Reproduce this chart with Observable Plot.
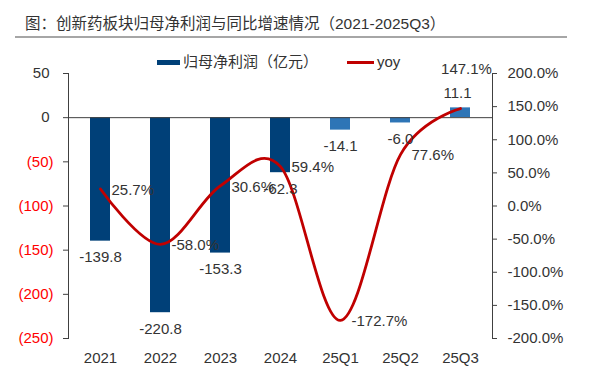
<!DOCTYPE html>
<html>
<head>
<meta charset="utf-8">
<script src="https://cdn.jsdelivr.net/npm/d3@7"></script>
<script src="https://cdn.jsdelivr.net/npm/@observablehq/plot@0.6"></script>
<style>
  html, body { margin: 0; padding: 0; background: #fff; }
  #wrap { position: relative; width: 593px; height: 375px; overflow: hidden; background: #fff;
          font-family: "Liberation Sans", Arial, "Noto Sans CJK SC", sans-serif; color: #333; }
  #title { position: absolute; left: 25px; top: 13px; font-size: 15.5px; line-height: 22px; white-space: nowrap;
           font-family: "Liberation Sans", Arial, "Noto Sans CJK SC", sans-serif; }
  #rule { position: absolute; left: 15px; top: 36px; width: 552px; border-top: 2px solid #a6a6a6; }
  #chart { position: absolute; left: 0; top: 40px; }
  #legend { position: absolute; top: 52px; left: 157px; font-size: 15px; line-height: 20px; z-index: 2; white-space: nowrap; }
  .item { position: absolute; top: 0; display: flex; align-items: center; height: 20px; }
  .sw-bar { width: 23px; height: 5px; background: #004078; margin-right: 3px; }
  .sw-line { width: 27px; height: 3px; background: #c00000; margin-right: 3px; }
</style>
</head>
<body>
<div id="wrap">
  <div id="title">图：创新药板块归母净利润与同比增速情况（2021-2025Q3）</div>
  <div id="rule"></div>
  <div id="chart"></div>
  <div id="legend">
    <div class="item" style="left:0px"><div class="sw-bar"></div><span>归母净利润（亿元）</span></div>
    <div class="item" style="left:190px"><div class="sw-line"></div><span>yoy</span></div>
  </div>
</div>
<script>
const categories = ["2021", "2022", "2023", "2024", "25Q1", "25Q2", "25Q3"];
const profit = [-139.8, -220.8, -153.3, -62.3, -14.1, -6.0, 11.1];
const yoy = [25.7, -58.0, 30.6, 59.4, -172.7, 77.6, 147.1];
const leftTicks = [50, 0, -50, -100, -150, -200, -250];
const rightTicks = [200, 150, 100, 50, 0, -50, -100, -150, -200];

const DARK = "#004078", LIGHT = "#2e75b6", RED = "#c00000", TXT = "#333";
// map right-axis percent domain [-200, 200] onto left domain [-250, 50]
const toLeft = p => (p + 200) / 400 * 300 - 250;

const rows = categories.map((c, i) => ({cat: c, profit: profit[i], yoy: yoy[i], yl: toLeft(yoy[i]), quarterly: c.includes("Q")}));
const last = rows[rows.length - 1];

const plot = Plot.plot({
  width: 593,
  height: 335,
  marginLeft: 68,
  marginRight: 101,
  marginTop: 33,
  marginBottom: 37,
  style: {fontFamily: "'Liberation Sans', Arial, sans-serif", fontSize: "15px", color: TXT, background: "transparent", overflow: "visible"},
  x: {domain: categories, paddingInner: 0.67, paddingOuter: 0.335, label: null},
  y: {domain: [-250, 50], label: null},
  marks: [
    Plot.barY(rows.filter(d => !d.quarterly), {x: "cat", y: "profit", fill: DARK}),
    Plot.barY(rows.filter(d => d.quarterly), {x: "cat", y: "profit", fill: LIGHT}),
    Plot.ruleY([0], {stroke: "#404040", strokeWidth: 1}),
    Plot.frame({anchor: "left", stroke: "#404040"}),
    Plot.frame({anchor: "right", stroke: "#404040"}),
    Plot.axisY({anchor: "left", ticks: leftTicks, tickSize: 5, tickFormat: () => "", stroke: "#404040", label: null}),
    Plot.axisY({anchor: "right", ticks: rightTicks.map(toLeft), tickSize: 4, tickFormat: () => "", stroke: "#404040", label: null}),
    Plot.text(leftTicks.filter(v => v >= 0), {y: d => d, text: d => String(d), frameAnchor: "left", textAnchor: "end", dx: -19, fill: TXT}),
    Plot.text(leftTicks.filter(v => v < 0), {y: d => d, text: d => `(${-d})`, frameAnchor: "left", textAnchor: "end", dx: -15, fill: "#ff0000"}),
    Plot.text(rightTicks, {y: d => toLeft(d), text: d => d.toFixed(1) + "%", frameAnchor: "right", textAnchor: "start", dx: 15, fill: TXT}),
    Plot.axisX({anchor: "bottom", tickSize: 0, tickPadding: 14, label: null, fill: TXT}),
    Plot.line(rows, {x: "cat", y: "yl", curve: "cardinal", stroke: RED, strokeWidth: 2.8}),
    Plot.text(rows.filter(d => d.profit < 0), {x: "cat", y: "profit", text: d => d.profit.toFixed(1), dy: 16, fill: TXT}),
    Plot.text(rows.filter(d => d.profit >= 0), {x: "cat", y: "profit", text: d => d.profit.toFixed(1), dy: -15, dx: -3, fill: TXT}),
    Plot.text(rows.slice(0, -1), {x: "cat", y: "yl", text: d => d.yoy.toFixed(1) + "%", textAnchor: "start", dx: 11, dy: 1, fill: TXT}),
    Plot.text([last], {x: "cat", y: "yl", text: d => d.yoy.toFixed(1) + "%", dx: 6, dy: -39, fill: TXT})
  ]
});
document.getElementById("chart").appendChild(plot);
</script>
</body>
</html>
